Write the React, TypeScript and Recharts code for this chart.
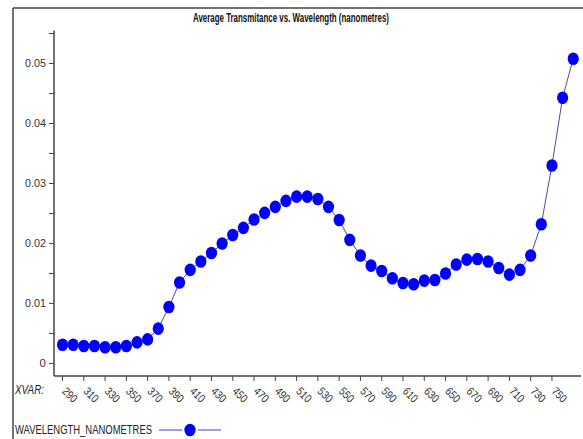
import { LineChart, Line, XAxis, YAxis } from "recharts";

const wavelengths = [
	290, 300, 310, 320, 330, 340, 350, 360, 370, 380, 390, 400, 410, 420, 430, 440, 450, 460, 470, 480, 490, 500, 510, 520, 530,
	540, 550, 560, 570, 580, 590, 600, 610, 620, 630, 640, 650, 660, 670, 680, 690, 700, 710, 720, 730, 740, 750, 760, 770,
];

const transmittance = [
	0.0031, 0.0031, 0.0029, 0.0029, 0.0027, 0.0027, 0.0029, 0.0035, 0.004, 0.0058, 0.0094, 0.0135, 0.0156, 0.017, 0.0184, 0.02,
	0.0214, 0.0226, 0.024, 0.0251, 0.0261, 0.0271, 0.0278, 0.0278, 0.0274, 0.0261, 0.0239, 0.0206, 0.018, 0.0163, 0.0154, 0.0142,
	0.0134, 0.0132, 0.0138, 0.0139, 0.015, 0.0165, 0.0173, 0.0174, 0.017, 0.0159, 0.0148, 0.0156, 0.018, 0.0232, 0.033, 0.0443,
	0.0508,
];

const xTicks = [290, 310, 330, 350, 370, 390, 410, 430, 450, 470, 490, 510, 530, 550, 570, 590, 610, 630, 650, 670, 690, 710, 730, 750];
const yTicks = [0, 0.005, 0.01, 0.015, 0.02, 0.025, 0.03, 0.035, 0.04, 0.045, 0.05, 0.055];
const yLabels = ["0", "", "0.01", "", "0.02", "", "0.03", "", "0.04", "", "0.05", ""];

const data = wavelengths.map((w, i) => ({ w, t: transmittance[i] }));

const font = "'Liberation Sans', Arial, sans-serif";
const frame = "#444";

const Dot = (props: any) => {
	const { cx, cy } = props;
	if (cx == null || cy == null) return null;
	return <ellipse cx={cx} cy={cy} rx={5.6} ry={6.3} fill="#0000ff" />;
};

const XTick = (props: any) => {
	const { x, y, payload } = props;
	return (
		<g transform={`translate(${x - 1},${y + 9})`}>
			<text transform="rotate(45)" x={0} y={0} fontSize={11.5} fill="#333" fontFamily={font} textAnchor="start" textLength={16} lengthAdjust="spacingAndGlyphs">
				{payload.value}
			</text>
		</g>
	);
};

const YTick = (props: any) => {
	const { x, y, index } = props;
	const label = yLabels[index];
	if (!label) return null;
	return (
		<text x={x - 1} y={y + 4} fontSize={11.5} fill="#333" fontFamily={font} textAnchor="end" textLength={label.length > 1 ? 21 : undefined} lengthAdjust="spacingAndGlyphs">
			{label}
		</text>
	);
};

export default function App() {
	return (
		<div style={{ position: "absolute", left: 0, top: 0, width: 583, height: 439, background: "#fff", overflow: "hidden" }}>
			<LineChart width={583} height={439} data={data} margin={{ top: 30.5, right: 2, left: 0, bottom: 0 }}>
				<XAxis
					dataKey="w"
					type="number"
					domain={[282, 777.3]}
					ticks={xTicks}
					interval={0}
					height={63}
					tickSize={5}
					axisLine={{ stroke: frame, strokeWidth: 1.5 }}
					tickLine={{ stroke: frame }}
					tick={<XTick />}
					allowDataOverflow
				/>
				<XAxis xAxisId="top" orientation="top" dataKey="w" type="number" domain={[282, 777.3]} height={0} tick={false} tickLine={false} axisLine={{ stroke: frame, strokeWidth: 1.5 }} />
				<YAxis
					dataKey="t"
					type="number"
					domain={[-0.0021, 0.0555]}
					ticks={yTicks}
					interval={0}
					width={54}
					tickSize={5}
					axisLine={{ stroke: frame, strokeWidth: 1.5 }}
					tickLine={{ stroke: frame }}
					tick={<YTick />}
					allowDataOverflow
				/>
				<YAxis yAxisId="right" orientation="right" domain={[-0.0021, 0.0555]} width={0} tick={false} tickLine={false} axisLine={{ stroke: frame, strokeWidth: 1.5 }} />
				<Line dataKey="t" stroke="#4b4ba0" strokeWidth={1} dot={<Dot />} activeDot={false} isAnimationActive={false} />
			</LineChart>
			<svg width={583} height={439} style={{ position: "absolute", left: 0, top: 0, pointerEvents: "none" }}>
				<line x1={13} y1={8} x2={13} y2={439} stroke={frame} strokeWidth={1.5} />
				<line x1={13} y1={8} x2={583} y2={8} stroke={frame} strokeWidth={1.5} />
				<text x={291} y={22} textAnchor="middle" fontFamily={font} fontWeight="bold" fontSize={13.5} fill="#111" textLength={196} lengthAdjust="spacingAndGlyphs">
					Average Transmitance vs. Wavelength (nanometres)
				</text>
				<text x={15} y={394} fontFamily={font} fontStyle="italic" fontSize={12.5} fill="#222" textLength={29} lengthAdjust="spacingAndGlyphs">
					XVAR:
				</text>
				<text x={15} y={434} fontFamily={font} fontSize={12.5} fill="#222" textLength={137} lengthAdjust="spacingAndGlyphs">
					WAVELENGTH_NANOMETRES
				</text>
				<line x1={159} y1={430} x2={182} y2={430} stroke="#6a6ad0" strokeWidth={1.3} />
				<line x1={198} y1={430} x2={221} y2={430} stroke="#6a6ad0" strokeWidth={1.3} />
				<ellipse cx={190} cy={430} rx={5.6} ry={6.3} fill="#0000ff" />
			</svg>
		</div>
	);
}
